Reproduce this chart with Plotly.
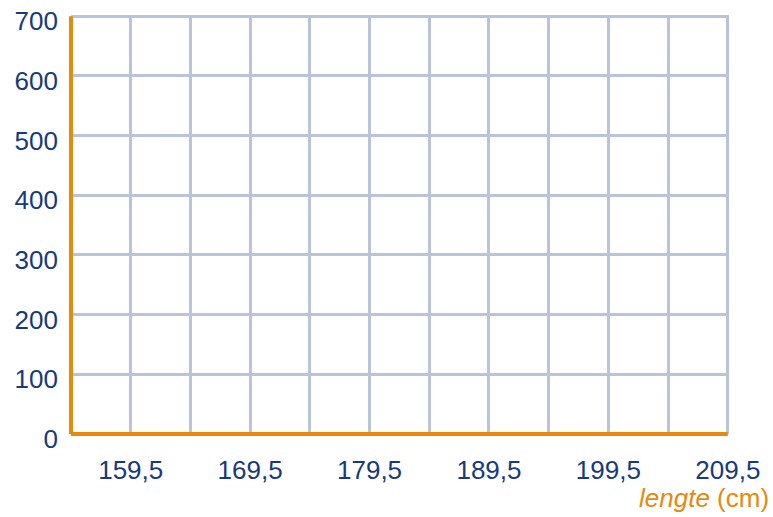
import plotly.graph_objects as go

x_major = [159.5, 169.5, 179.5, 189.5, 199.5, 209.5]
x_labels = ["159,5", "169,5", "179,5", "189,5", "199,5", "209,5"]
x_minor = [164.5, 174.5, 184.5, 194.5, 204.5]
y_ticks = [0, 100, 200, 300, 400, 500, 600, 700]
y_labels = ["0", "100", "200", "300", "400", "500", "600", "700"]
x_title = "<i>lengte</i> (cm)"

ORANGE = "#e8890c"
GRID = "#b9c3d9"
TXT = "#163a7c"

X0, X1 = 154.5, 209.6
Y0, Y1 = 0, 702

fig = go.Figure()
fig.add_trace(go.Scatter(x=[], y=[], mode="markers", showlegend=False))

fig.update_layout(
    width=773, height=517,
    margin=dict(l=71, r=44, t=15, b=83),
    plot_bgcolor="white", paper_bgcolor="white",
    font=dict(family="Liberation Sans, Arial", size=26, color=TXT),
    xaxis=dict(
        range=[X0, X1],
        tickvals=x_major, ticktext=x_labels,
        showgrid=True, gridcolor=GRID, gridwidth=3,
        minor=dict(tickvals=x_minor, showgrid=True, gridcolor=GRID, gridwidth=3),
        zeroline=False, showline=False, automargin=False,
        ticks="", ticklabelstandoff=18,
        tickfont=dict(size=26, color=TXT),
    ),
    yaxis=dict(
        range=[Y0, Y1],
        tickvals=y_ticks, ticktext=y_labels,
        showgrid=True, gridcolor=GRID, gridwidth=3,
        zeroline=False, showline=False, automargin=False,
        ticks="", ticklabelstandoff=12, ticklabelshift=5,
        tickfont=dict(size=26, color=TXT),
    ),
)

# orange axes drawn over grid (paper coords so they are not clipped)
fig.add_shape(type="line", xref="paper", yref="paper", x0=0, x1=(209.5 - X0) / (X1 - X0),
              y0=0, y1=0, line=dict(color=ORANGE, width=4), layer="above")
fig.add_shape(type="line", xref="paper", yref="paper", x0=0, x1=0, y0=0, y1=700 / Y1,
              line=dict(color=ORANGE, width=4), layer="above")

fig.add_annotation(text=x_title, xref="paper", yref="paper", x=1.064, y=-0.153,
                   xanchor="right", yanchor="middle", showarrow=False,
                   font=dict(size=26, color=ORANGE))

fig.write_html("out.html", config={"displayModeBar": False},
               post_script="document.body.style.margin='0';")
